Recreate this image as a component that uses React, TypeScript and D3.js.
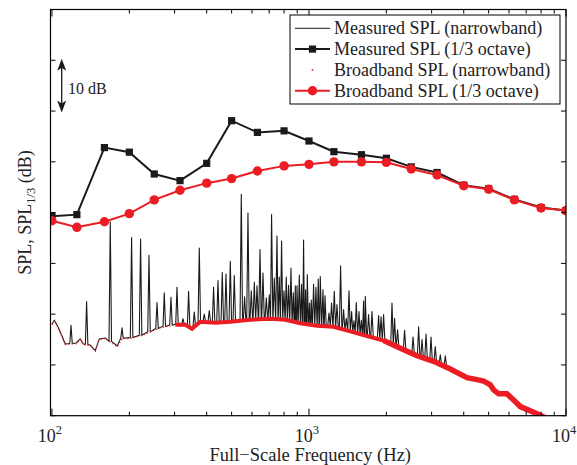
import React from 'react';
import * as d3 from 'd3';

// ---------- data ----------
const THIRD_OCT_FREQ = [100, 125, 160, 200, 250, 315, 400, 500, 630, 800, 1000, 1250, 1600, 2000, 2500, 3150, 4000, 5000, 6300, 8000, 10000];
const MEASURED_THIRD = [59.3, 59.6, 72.8, 71.9, 67.6, 66.3, 69.7, 78.1, 75.8, 76.1, 74.1, 72.0, 71.4, 70.7, 69.0, 67.9, 65.4, 64.7, 62.6, 61.0, 60.4];
const BROADBAND_THIRD = [58.4, 57.1, 58.2, 59.8, 62.5, 64.4, 65.8, 66.7, 68.2, 69.2, 69.5, 70.0, 70.0, 69.9, 68.6, 67.4, 65.3, 64.6, 62.5, 60.9, 60.4];

// broadband narrowband floor
const BASE_FREQ = [100, 102.1, 105.8, 112.7, 124.3, 128.9, 132.4, 140.9, 147.4, 152.8, 161.2, 179.5, 187.7, 201.7, 220.6, 241.3, 263.9, 301.9, 330.2, 350.6, 377.6, 432.0, 494.2, 590.9, 707.1, 808.8, 925.0, 1074.3, 1246.1, 1447.6, 1681.6, 1951.3, 2266.9, 2632.0, 3053.9, 3547.3, 4119.3, 4505.1, 4778.0, 5074.0, 5227.1, 5467.9, 5894.3, 6253.7, 6640.6, 7153.3, 7713.8, 8309.4];
const BASE_LEVEL = [37.9, 38.7, 37.3, 34.0, 34.2, 35.0, 34.0, 33.8, 32.7, 35.0, 35.2, 33.6, 35.2, 35.2, 35.7, 36.5, 37.3, 37.9, 37.9, 37.1, 38.5, 38.3, 38.5, 38.9, 39.1, 38.9, 38.2, 37.7, 37.5, 36.6, 35.7, 34.8, 33.3, 31.8, 30.7, 29.2, 27.5, 27.1, 26.8, 26.1, 25.1, 24.3, 24.3, 23.1, 21.8, 21.1, 20.4, 19.6];

// tonal peaks of the measured narrowband spectrum
const PEAK_FREQ = [118.6, 136.4, 168.6, 187.3, 204.1, 221.2, 238.5, 256.3, 273.5, 290.4, 306.5, 323.4, 340.1, 357.9, 374.3, 391.4, 409.3, 425.4, 442.5, 459.9, 475.4, 494.2, 512.1, 545.3, 561.6, 578.9, 596.4, 612.7, 627.7, 644.7, 662.2, 682.2, 700.7, 715.3, 732.8, 750.8, 766.3, 782.3, 799.2, 816.0, 832.9, 851.1, 868.8, 884.5, 898.2, 917.0, 936.0, 952.8, 970.1, 984.9, 1005.4, 1020.7, 1042.1, 1064.6, 1086.9, 1106.6, 1133.6, 1154.2, 1196.3, 1224.4, 1254.4, 1285.1, 1327.4, 1363.4, 1396.8, 1431.0, 1465.0, 1496.7, 1527.7, 1565.4, 1597.8, 1631.2, 1656.2, 1705.8, 1758.6, 1865.7, 1906.4, 1951.3, 2103.7, 2153.2, 2211.3, 2355.0, 2540.0, 2670.7, 2753.2, 2853.8, 2984.2, 3100.0, 3243.0, 3391.0];
const PEAK_LEVEL = [37.8, 42.5, 58.2, 37.3, 55.1, 54.8, 51.6, 42.3, 44.2, 43.3, 45.3, 39.1, 44.5, 40.4, 53.0, 40.0, 40.7, 45.3, 46.6, 48.2, 47.9, 50.4, 47.6, 63.6, 43.4, 59.9, 44.6, 46.3, 45.6, 52.7, 48.1, 43.2, 43.8, 59.6, 47.1, 55.4, 47.3, 54.4, 44.6, 47.3, 45.7, 49.1, 44.2, 45.6, 45.6, 47.7, 45.9, 54.6, 44.8, 47.8, 42.2, 42.8, 45.9, 45.3, 46.9, 47.4, 44.8, 43.6, 40.2, 42.2, 44.5, 41.9, 49.5, 40.9, 39.2, 44.6, 40.5, 38.7, 42.3, 40.5, 38.8, 42.6, 43.5, 39.9, 40.5, 39.7, 39.5, 39.9, 42.2, 39.2, 36.9, 36.8, 35.5, 37.5, 35.0, 36.1, 35.5, 33.6, 32.0, 31.8];

const X_TICKS = [100, 1000, 10000];
const X_TICK_EXP = ['2', '3', '4'];
const Y_TICKS = [20, 30, 40, 50, 60, 70, 80, 90, 100];

const LEGEND_LABELS = [
  'Measured SPL (narrowband)',
  'Measured SPL (1/3 octave)',
  'Broadband SPL (narrowband)',
  'Broadband SPL (1/3 octave)',
];

// ---------- layout ----------
const W = 577, H = 465;
const L = 50.5, R = 566, T = 9.5, B = 415.7;
const RED = '#ec1c24';
const INK = '#1a1a1a';
const FONT = '"Liberation Serif", "Times New Roman", serif';

const x = d3.scaleLog().domain([98.7, 10000]).range([L, R]);
const y = d3.scaleLinear().domain([20, 100]).range([B, T]);

export default function App() {
  const baseScale = d3.scaleLog().domain(BASE_FREQ).range(BASE_LEVEL).clamp(true);

  // measured narrowband: floor + narrow tonal spikes
  const halfW = 1.25;
  const peakPx = PEAK_FREQ.map((f) => x(f));
  const pts: [number, number][] = [];
  BASE_FREQ.forEach((f, i) => {
    const px = x(f);
    if (peakPx.every((p) => Math.abs(p - px) > halfW + 0.3)) pts.push([px, y(BASE_LEVEL[i]) - 0.6]);
  });
  PEAK_FREQ.forEach((f, i) => {
    const px = x(f);
    const base = y(baseScale(f)) - 0.6;
    pts.push([px - halfW, base]);
    pts.push([px, y(PEAK_LEVEL[i])]);
    pts.push([px + halfW, base]);
  });
  pts.sort((a, b) => a[0] - b[0]);
  const rawLine = d3.line<[number, number]>().x((d) => d[0]).y((d) => d[1]);
  const measuredNarrow = rawLine(pts) || '';

  const baseData = BASE_FREQ.map((f, i) => ({ f, v: BASE_LEVEL[i] }));
  const baseLine = d3.line<{ f: number; v: number }>().x((d) => x(d.f)).y((d) => y(d.v));
  const redLow = baseLine(baseData.filter((d) => d.f <= 310)) || '';
  const redMid = baseLine(baseData.filter((d) => d.f >= 290 && d.f <= 2300)) || '';
  const redHigh = baseLine(baseData.filter((d) => d.f >= 1900)) || '';

  const thirdLine = d3.line<number>().x((_, i) => x(THIRD_OCT_FREQ[i])).y((d) => y(d));
  const measuredThirdPath = thirdLine(MEASURED_THIRD) || '';
  const broadbandThirdPath = thirdLine(BROADBAND_THIRD) || '';

  const minorTicks = x.ticks().filter((t) => !X_TICKS.includes(t));

  const legX = 290, legY = 15, legW = 270, legH = 89;
  const rowY = (i: number) => 28.3 + i * 20.8;

  const arrowX = 61.7;
  const aTop = y(90) - 1.5, aBot = y(80) + 1.5;

  return (
    <svg width={W} height={H} style={{ position: 'absolute', left: 0, top: 0, background: '#fff' }} fontFamily={FONT}>
      <defs>
        <clipPath id="plotClip">
          <rect x={L} y={T} width={R - L} height={B - T} />
        </clipPath>
      </defs>
      <rect x={0} y={0} width={W} height={H} fill="#fff" />

      <g clipPath="url(#plotClip)">
        <path d={measuredNarrow} fill="none" stroke={INK} strokeWidth={1.1} strokeLinejoin="round" />
        <path d={redLow} fill="none" stroke={RED} strokeWidth={1.3} strokeDasharray="1.2 2.2" />
        <path d={redMid} fill="none" stroke={RED} strokeWidth={4} />
        <path d={redHigh} fill="none" stroke={RED} strokeWidth={5.5} />

        <path d={measuredThirdPath} fill="none" stroke={INK} strokeWidth={2} />
        {MEASURED_THIRD.map((v, i) => (
          <rect key={'s' + i} x={x(THIRD_OCT_FREQ[i]) - 3.6} y={y(v) - 3.6} width={7.2} height={7.2} fill={INK} />
        ))}
        <path d={broadbandThirdPath} fill="none" stroke={RED} strokeWidth={2} />
        {BROADBAND_THIRD.map((v, i) => (
          <circle key={'c' + i} cx={x(THIRD_OCT_FREQ[i])} cy={y(v)} r={4.7} fill={RED} />
        ))}
      </g>

      {/* axes box */}
      <rect x={L} y={T} width={R - L} height={B - T} fill="none" stroke="#000" strokeWidth={1.2} />
      {X_TICKS.map((t) => (
        <g key={'xt' + t}>
          <line x1={x(t)} x2={x(t)} y1={B} y2={B - 7} stroke="#000" strokeWidth={1} />
          <line x1={x(t)} x2={x(t)} y1={T} y2={T + 7} stroke="#000" strokeWidth={1} />
        </g>
      ))}
      {minorTicks.map((t) => (
        <g key={'xm' + t}>
          <line x1={x(t)} x2={x(t)} y1={B} y2={B - 4} stroke="#000" strokeWidth={1} />
          <line x1={x(t)} x2={x(t)} y1={T} y2={T + 4} stroke="#000" strokeWidth={1} />
        </g>
      ))}
      {Y_TICKS.map((t) => (
        <g key={'yt' + t}>
          <line x1={L} x2={L + 5} y1={y(t)} y2={y(t)} stroke="#000" strokeWidth={1} />
          <line x1={R} x2={R - 5} y1={y(t)} y2={y(t)} stroke="#000" strokeWidth={1} />
        </g>
      ))}

      {/* x tick labels */}
      {X_TICKS.map((t, i) => (
        <text key={'xl' + t} x={x(t) - 2} y={442} textAnchor="middle" fontSize={18} fill="#222">
          10
          <tspan dy={-8} fontSize={12.5}>{X_TICK_EXP[i]}</tspan>
        </text>
      ))}

      <text x={(L + R) / 2 + 2} y={461} textAnchor="middle" fontSize={18.5} fill="#222">
        Full−Scale Frequency (Hz)
      </text>

      <text transform={`translate(31, ${(T + B) / 2}) rotate(-90)`} textAnchor="middle" fontSize={18} fill="#222">
        SPL, SPL
        <tspan dy={4} fontSize={12.5}>1/3</tspan>
        <tspan dy={-4}> (dB)</tspan>
      </text>

      {/* 10 dB scale arrow */}
      <line x1={arrowX} x2={arrowX} y1={aTop + 8} y2={aBot - 8} stroke={INK} strokeWidth={1.3} />
      <path d={`M${arrowX},${aTop} L${arrowX + 4.5},${aTop + 12} L${arrowX},${aTop + 9} L${arrowX - 4.5},${aTop + 12} Z`} fill={INK} />
      <path d={`M${arrowX},${aBot} L${arrowX + 4.5},${aBot - 12} L${arrowX},${aBot - 9} L${arrowX - 4.5},${aBot - 12} Z`} fill={INK} />
      <text x={68} y={94} fontSize={16} fill="#222">10 dB</text>

      {/* legend */}
      <rect x={legX} y={legY} width={legW} height={legH} fill="#fff" stroke="#000" strokeWidth={1} />
      {LEGEND_LABELS.map((lab, i) => (
        <text key={'lg' + i} x={334} y={rowY(i) + 6} fontSize={18} fill="#222">{lab}</text>
      ))}
      <line x1={295} x2={330} y1={rowY(0)} y2={rowY(0)} stroke={INK} strokeWidth={1} />
      <line x1={295} x2={330} y1={rowY(1)} y2={rowY(1)} stroke={INK} strokeWidth={2} />
      <rect x={312.5 - 3.6} y={rowY(1) - 3.6} width={7.2} height={7.2} fill={INK} />
      <circle cx={312.5} cy={rowY(2)} r={0.9} fill={RED} />
      <line x1={295} x2={330} y1={rowY(3)} y2={rowY(3)} stroke={RED} strokeWidth={2} />
      <circle cx={312.5} cy={rowY(3)} r={4.7} fill={RED} />
    </svg>
  );
}
